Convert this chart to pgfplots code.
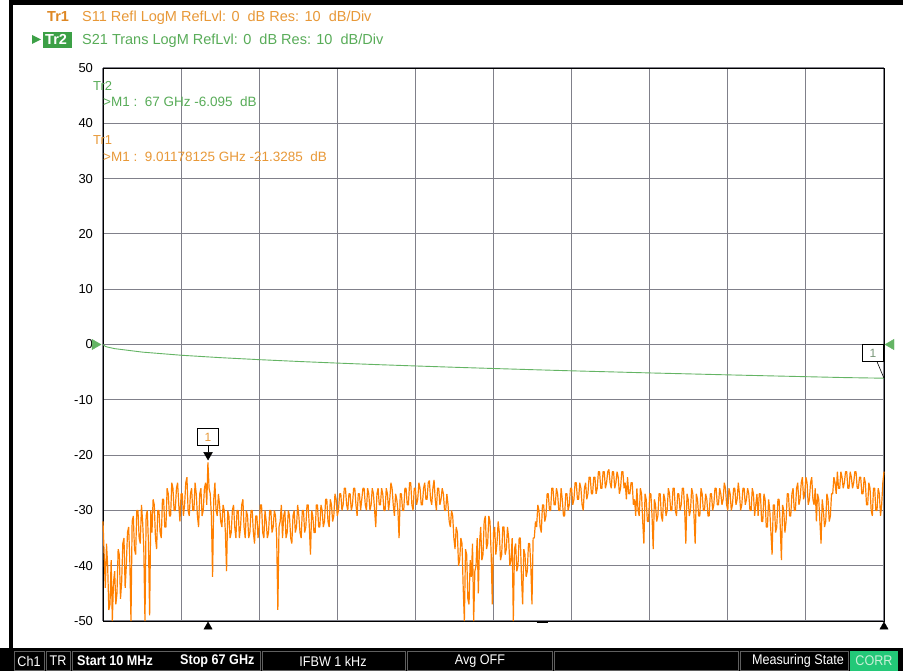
\documentclass[border=0pt]{standalone}
\usepackage{pgfplots}
\pgfplotsset{compat=1.18}
\usepackage{fontspec}
\setmainfont{Liberation Sans}
\newfontfamily\barfont{Liberation Sans}[FakeStretch=0.9]

\definecolor{tro}{RGB}{255,128,0}
\definecolor{trodark}{RGB}{222,135,35}
\definecolor{trotext}{RGB}{232,152,55}
\definecolor{trg}{RGB}{100,180,100}
\definecolor{trgtext}{RGB}{88,172,88}
\definecolor{trgbox}{RGB}{60,160,70}
\definecolor{gridc}{RGB}{128,128,138}
\definecolor{corr}{RGB}{35,200,120}
\definecolor{cellb}{RGB}{95,95,95}

\begin{document}
\begin{tikzpicture}[x=1pt,y=-1pt]
\useasboundingbox (0,0) rectangle (903,671);
\fill[white] (0,0) rectangle (903,671);
\fill[black] (10,0) rectangle (903,5);
\fill[black] (9,0) rectangle (13,650);
\fill[black] (0,648) rectangle (903,671);

\begin{axis}[
  at={(103pt,-621pt)}, anchor=south west,
  scale only axis, width=781pt, height=553pt,
  xmin=0, xmax=335, ymin=-50, ymax=50,
  xtick={0,33.5,...,335}, xticklabels={},
  ytick={-50,-40,...,50},
  grid=major, major grid style={gridc, line width=1.1pt},
  major tick length=0pt,
  axis line style={black, line width=1pt},
  yticklabel style={font=\fontsize{13}{13}\selectfont,
    /pgf/number format/assume math mode=true, xshift=-6.5pt},
  clip=false,
]
% S21 trace (x = sweep point, 0.2 GHz per point)
\addplot[trg, line width=0.9pt] coordinates {
(0,0) (1,-0.34) (2,-0.47) (5,-0.75) (17,-1.38) (33.5,-1.94) (50,-2.37)
(67,-2.74) (84,-3.07) (100.5,-3.36) (117,-3.63) (134,-3.88) (151,-4.12)
(167.5,-4.34) (184,-4.55) (201,-4.76) (218,-4.95) (234.5,-5.14) (251,-5.31)
(268,-5.49) (285,-5.66) (301.5,-5.82) (318,-5.98) (335,-6.095)};

% S11 trace
\addplot[tro, line width=1.2pt, line join=bevel] coordinates {
(0,-32) (0.5,-38) (1,-44) (1.5,-36) (2,-40) (2.5,-48) (3,-47) (3.5,-39) (4,-50) (4.5,-43)
(5,-41) (5.5,-47) (6,-45) (6.5,-37) (7,-38) (7.5,-46) (8,-43) (8.5,-36) (9,-35) (9.5,-44)
(10,-40) (10.5,-34) (11,-33) (11.5,-39) (12,-50) (12.5,-32) (13,-31) (13.5,-37) (14,-38) (14.5,-30)
(15,-30) (15.5,-35) (16,-36) (16.5,-29) (17,-32) (17.5,-37) (18,-50) (18.5,-31) (19,-30) (19.5,-36)
(20,-49) (20.5,-30) (21,-34) (21.5,-28) (22,-29) (22.5,-35) (23,-37) (23.5,-30) (24,-30) (24.5,-34)
(25,-35) (25.5,-28) (26,-28) (26.5,-33) (27,-33) (27.5,-26) (28,-27) (28.5,-31) (29,-31) (29.5,-25)
(30,-26) (30.5,-30) (31,-30) (31.5,-26) (32,-25) (32.5,-29) (33,-32) (33.5,-27) (34,-27) (34.5,-31)
(35,-29) (35.5,-25) (36,-24) (36.5,-30) (37,-31) (37.5,-27) (38,-26) (38.5,-30) (39,-30) (39.5,-25)
(40,-27) (40.5,-31) (41,-33) (41.5,-27) (42,-26) (42.5,-31) (43,-30) (43.5,-26) (44,-25) (44.5,-29)
(45,-21.3) (45.5,-26) (46,-27) (46.5,-31) (47,-42) (47.5,-28) (48,-25) (48.5,-30) (49,-31) (49.5,-27)
(50,-29) (50.5,-32) (51,-33) (51.5,-29) (52,-30) (52.5,-34) (53,-41) (53.5,-30) (54,-31) (54.5,-35)
(55,-34) (55.5,-30) (56,-29) (56.5,-33) (57,-35) (57.5,-30) (58,-30) (58.5,-35) (59,-33) (59.5,-29)
(60,-28) (60.5,-33) (61,-35) (61.5,-30) (62,-31) (62.5,-35) (63,-34) (63.5,-30) (64,-30) (64.5,-34)
(65,-36) (65.5,-31) (66,-31) (66.5,-35) (67,-33) (67.5,-29) (68,-29) (68.5,-34) (69,-35) (69.5,-30)
(70,-32) (70.5,-35) (71,-34) (71.5,-30) (72,-30) (72.5,-34) (73,-33) (73.5,-30) (74,-31) (74.5,-35)
(75,-48) (75.5,-33) (76,-32) (76.5,-29) (77,-35) (77.5,-31) (78,-30) (78.5,-35) (79,-34) (79.5,-30)
(80,-31) (80.5,-35) (81,-36) (81.5,-31) (82,-30) (82.5,-34) (83,-33) (83.5,-29) (84,-31) (84.5,-34)
(85,-35) (85.5,-30) (86,-30) (86.5,-34) (87,-33) (87.5,-29) (88,-29) (88.5,-33) (89,-38) (89.5,-30)
(90,-31) (90.5,-34) (91,-34) (91.5,-29) (92,-29) (92.5,-33) (93,-33) (93.5,-29) (94,-30) (94.5,-33)
(95,-32) (95.5,-28) (96,-28) (96.5,-32) (97,-33) (97.5,-28) (98,-29) (98.5,-32) (99,-31) (99.5,-27)
(100,-28) (100.5,-31) (101,-30) (101.5,-27) (102,-27) (102.5,-30) (103,-29) (103.5,-26) (104,-26) (104.5,-29)
(105,-30) (105.5,-27) (106,-27) (106.5,-30) (107,-29) (107.5,-26) (108,-26) (108.5,-29) (109,-31) (109.5,-27)
(110,-27) (110.5,-30) (111,-28) (111.5,-26) (112,-26) (112.5,-29) (113,-30) (113.5,-26) (114,-27) (114.5,-30)
(115,-29) (115.5,-26) (116,-27) (116.5,-30) (117,-33) (117.5,-27) (118,-26) (118.5,-29) (119,-29) (119.5,-26)
(120,-27) (120.5,-30) (121,-30) (121.5,-26) (122,-27) (122.5,-30) (123,-28) (123.5,-25) (124,-26) (124.5,-29)
(125,-31) (125.5,-27) (126,-28) (126.5,-30) (127,-35) (127.5,-27) (128,-27) (128.5,-30) (129,-30) (129.5,-26)
(130,-26) (130.5,-29) (131,-29) (131.5,-25) (132,-25) (132.5,-29) (133,-30) (133.5,-26) (134,-26) (134.5,-29)
(135,-28) (135.5,-25) (136,-26) (136.5,-29) (137,-29) (137.5,-26) (138,-25) (138.5,-28) (139,-28) (139.5,-25)
(140,-24.6) (140.5,-28) (141,-29) (141.5,-26) (142,-24.5) (142.5,-28) (143,-30) (143.5,-26) (144,-26) (144.5,-29)
(145,-28) (145.5,-26) (146,-27) (146.5,-30) (147,-30) (147.5,-27) (148,-29) (148.5,-32) (149,-33) (149.5,-30)
(150,-31) (150.5,-35) (151,-37) (151.5,-33) (152,-34) (152.5,-40) (153,-39) (153.5,-35) (154,-36) (154.5,-44)
(155,-50) (155.5,-37) (156,-38) (156.5,-46) (157,-47) (157.5,-39) (158,-42) (158.5,-36) (159,-50) (159.5,-41)
(160,-40) (160.5,-35) (161,-45) (161.5,-36) (162,-33) (162.5,-39) (163,-38) (163.5,-32) (164,-31) (164.5,-37)
(165,-36) (165.5,-31) (166,-32) (166.5,-38) (167,-47) (167.5,-34) (168,-33) (168.5,-38) (169,-36) (169.5,-32)
(170,-34) (170.5,-39) (171,-38) (171.5,-33) (172,-33) (172.5,-38) (173,-37) (173.5,-33) (174,-35) (174.5,-40)
(175,-39) (175.5,-35) (176,-50) (176.5,-37) (177,-36) (177.5,-41) (178,-40) (178.5,-35) (179,-35) (179.5,-42)
(180,-47) (180.5,-37) (181,-38) (181.5,-42) (182,-41) (182.5,-36) (183,-36) (183.5,-40) (184,-47) (184.5,-35)
(185,-35) (185.5,-32) (186,-33) (186.5,-29) (187,-30) (187.5,-33) (188,-34) (188.5,-29) (189,-29) (189.5,-32)
(190,-31) (190.5,-27) (191,-27) (191.5,-30) (192,-30) (192.5,-26) (193,-26) (193.5,-29) (194,-29) (194.5,-26)
(195,-27) (195.5,-30) (196,-30) (196.5,-26) (197,-28) (197.5,-31) (198,-31) (198.5,-27) (199,-27) (199.5,-30)
(200,-29) (200.5,-26) (201,-26) (201.5,-29) (202,-28) (202.5,-25) (203,-25) (203.5,-28) (204,-28) (204.5,-25)
(205,-26) (205.5,-29) (206,-30) (206.5,-26) (207,-25) (207.5,-28) (208,-27) (208.5,-24) (209,-24) (209.5,-27)
(210,-27) (210.5,-24) (211,-24) (211.5,-27) (212,-26) (212.5,-23) (213,-23) (213.5,-26) (214,-26) (214.5,-23)
(215,-23) (215.5,-26) (216,-25) (216.5,-23) (217,-22.6) (217.5,-25) (218,-26) (218.5,-23) (219,-23) (219.5,-26)
(220,-25) (220.5,-23) (221,-24) (221.5,-27) (222,-26) (222.5,-23) (223,-23) (223.5,-26) (224,-25) (224.5,-28)
(225,-24) (225.5,-27) (226,-27) (226.5,-25) (227,-25) (227.5,-29) (228,-28) (228.5,-31) (229,-26) (229.5,-30)
(230,-31) (230.5,-26) (231,-27) (231.5,-32) (232,-36) (232.5,-27) (233,-28) (233.5,-32) (234,-32) (234.5,-27)
(235,-27) (235.5,-31) (236,-37) (236.5,-28) (237,-29) (237.5,-32) (238,-31) (238.5,-27) (239,-27) (239.5,-31)
(240,-32) (240.5,-27) (241,-28) (241.5,-31) (242,-30) (242.5,-26) (243,-27) (243.5,-30) (244,-30) (244.5,-26)
(245,-26) (245.5,-30) (246,-31) (246.5,-27) (247,-27) (247.5,-30) (248,-29) (248.5,-26) (249,-26) (249.5,-30)
(250,-36) (250.5,-27) (251,-28) (251.5,-31) (252,-30) (252.5,-26) (253,-27) (253.5,-31) (254,-36) (254.5,-27)
(255,-28) (255.5,-31) (256,-31) (256.5,-26) (257,-27) (257.5,-30) (258,-30) (258.5,-27) (259,-28) (259.5,-31)
(260,-31) (260.5,-27) (261,-27) (261.5,-30) (262,-29) (262.5,-26) (263,-26) (263.5,-29) (264,-29) (264.5,-26)
(265,-27) (265.5,-29) (266,-28) (266.5,-25) (267,-26) (267.5,-29) (268,-30) (268.5,-26) (269,-27) (269.5,-30)
(270,-29) (270.5,-26) (271,-26) (271.5,-29) (272,-28) (272.5,-25) (273,-27) (273.5,-30) (274,-29) (274.5,-26)
(275,-26) (275.5,-29) (276,-28) (276.5,-26) (277,-27) (277.5,-30) (278,-30) (278.5,-26) (279,-27) (279.5,-31)
(280,-29) (280.5,-27) (281,-31) (281.5,-27) (282,-27) (282.5,-32) (283,-32) (283.5,-27) (284,-28) (284.5,-33)
(285,-33) (285.5,-28) (286,-30) (286.5,-34) (287,-38) (287.5,-29) (288,-29) (288.5,-34) (289,-33) (289.5,-28)
(290,-28) (290.5,-33) (291,-39) (291.5,-29) (292,-30) (292.5,-34) (293,-32) (293.5,-27) (294,-27) (294.5,-31)
(295,-31) (295.5,-27) (296,-26) (296.5,-30) (297,-30) (297.5,-26) (298,-25) (298.5,-29) (299,-28) (299.5,-25)
(300,-24) (300.5,-28) (301,-27) (301.5,-24) (302,-25) (302.5,-29) (303,-28) (303.5,-25) (304,-24) (304.5,-28)
(305,-29) (305.5,-26) (306,-32) (306.5,-27) (307,-28) (307.5,-32) (308,-36) (308.5,-28) (309,-30) (309.5,-33)
(310,-32) (310.5,-27) (311,-28) (311.5,-32) (312,-31) (312.5,-27) (313,-27) (313.5,-24) (314,-25) (314.5,-27)
(315,-23) (315.5,-26) (316,-26) (316.5,-23) (317,-24) (317.5,-26) (318,-25) (318.5,-23) (319,-23) (319.5,-26)
(320,-26) (320.5,-23) (321,-24) (321.5,-26) (322,-25) (322.5,-23) (323,-23) (323.5,-26) (324,-26) (324.5,-24)
(325,-24) (325.5,-27) (326,-27) (326.5,-24) (327,-25) (327.5,-29) (328,-29) (328.5,-25) (329,-26) (329.5,-30)
(330,-31) (330.5,-26) (331,-26) (331.5,-30) (332,-30) (332.5,-26) (333,-27) (333.5,-31) (334,-29) (334.5,-25) (335,-23)};

% markers
\addplot[black, only marks, mark=triangle*, mark size=5pt,
  mark options={rotate=180}, yshift=7.5pt] coordinates {(45.06,-21.3285)};
\addplot[black, only marks, mark=triangle*, mark size=4.7pt, yshift=-5.7pt]
  coordinates {(45.06,-50) (335,-50)};
\addplot[trg, only marks, mark=triangle*, mark size=6pt,
  mark options={rotate=-90}, xshift=-8pt] coordinates {(0,0)};
\addplot[trg, only marks, mark=triangle*, mark size=6pt,
  mark options={rotate=90}, xshift=7pt] coordinates {(335,0)};

\node[draw=black, fill=white, line width=0.8pt, minimum width=21pt,
  minimum height=17pt, inner sep=0pt, text=trotext,
  font=\fontsize{12}{12}\selectfont, yshift=25.5pt]
  at (axis cs:45.06,-21.3285) {1};
\draw[black, line width=0.8pt] ([yshift=17pt]axis cs:45.06,-21.3285)
  -- ([yshift=10pt]axis cs:45.06,-21.3285);
\node[draw=black, fill=white, line width=0.8pt, minimum width=21pt,
  minimum height=17pt, inner sep=0pt, text={rgb,255:red,120;green,150;blue,120},
  font=\fontsize{12}{12}\selectfont, xshift=-11pt, yshift=25pt]
  at (axis cs:335,-6.095) {1};
\draw[black, line width=0.6pt] ([xshift=-7pt, yshift=16.5pt]axis cs:335,-6.095)
  -- (axis cs:335,-6.095);
\draw[black, line width=1.3pt] ([yshift=-1.7pt]axis cs:186,-50) -- ([xshift=11pt, yshift=-1.7pt]axis cs:186,-50);
\end{axis}

% header
\node[anchor=base west, inner sep=0pt, text=trodark,
  font=\fontsize{14.5}{14.5}\selectfont\bfseries] at (47,22) {Tr1};
\node[anchor=base west, inner sep=0pt, text=trotext,
  font=\fontsize{14.5}{14.5}\selectfont] at (82,22)
  {S11 Refl LogM RefLvl: 0\ \ dB Res: 10\ \ dB/Div};
\fill[trgbox] (32,35) -- (41,39.5) -- (32,44) -- cycle;
\fill[trgbox] (43,32) rectangle (72,48);
\node[anchor=base west, inner sep=0pt, text=white,
  font=\fontsize{14.5}{14.5}\selectfont\bfseries] at (45,45) {Tr2};
\node[anchor=base west, inner sep=0pt, text=trgtext,
  font=\fontsize{14.5}{14.5}\selectfont] at (82,45)
  {S21 Trans LogM RefLvl: 0\ \ dB Res: 10\ \ dB/Div};

% marker readouts
\node[anchor=base west, inner sep=0pt, text=trgtext,
  font=\fontsize{13}{13}\selectfont] at (93,91) {Tr2};
\node[anchor=base west, inner sep=0pt, text=trgtext,
  font=\fontsize{13.5}{13.5}\selectfont] at (103,107)
  {>M1 :\ \ 67 GHz -6.095\ \ dB};
\node[anchor=base west, inner sep=0pt, text=trotext,
  font=\fontsize{13}{13}\selectfont] at (93,145) {Tr1};
\node[anchor=base west, inner sep=0pt, text=trotext,
  font=\fontsize{13.5}{13.5}\selectfont] at (103,162)
  {>M1 :\ \ 9.01178125 GHz -21.3285\ \ dB};

% status bar
\begin{scope}[cellb, line width=1pt]
\draw (14,651) rectangle (44,670);
\draw (46,651) rectangle (70,670);
\draw (72,651) rectangle (260,670);
\draw (262,651) rectangle (405,670);
\draw (407,651) rectangle (552,670);
\draw (554,651) rectangle (738,670);
\draw (740,651) rectangle (848,670);
\end{scope}
\fill[corr] (850,651) rectangle (898,671);
\begin{scope}[every node/.style={inner sep=0pt, text=white,
    font=\barfont\fontsize{14}{14}\selectfont}]
\node at (29,661) {Ch1};
\node at (58,661) {TR};
\node[anchor=west, font=\barfont\fontsize{14}{14}\selectfont\bfseries] at (77,661) {Start 10 MHz};
\node[anchor=west, font=\barfont\fontsize{14}{14}\selectfont\bfseries] at (180,661) {Stop 67 GHz};
\node at (333,661) {IFBW 1 kHz};
\node at (480,661) {Avg OFF};
\node[anchor=east] at (844,661) {Measuring State};
\node[text={rgb,255:red,200;green,240;blue,215}] at (874,661) {CORR};
\end{scope}
\end{tikzpicture}
\end{document}
